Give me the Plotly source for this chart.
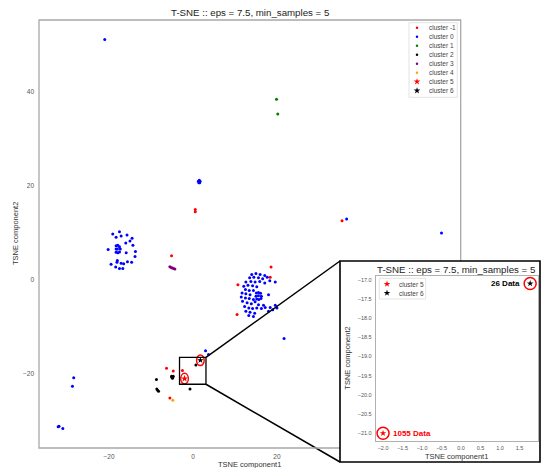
import plotly.graph_objects as go

W, H = 542, 468
FONT = "Liberation Sans, Arial, sans-serif"

# ---------------- data: T-SNE embedding, DBSCAN labels ----------------
# cluster -1 (noise)
noise_x = [0.55, 0.55, 35.5, -5.1, 18.6, 18.4, 10.7, 10.5, -6.3, -4.7, -2.5, -5.5]
noise_y = [14.4, 14.9, 12.5, 5.1, 2.7, 0.5, -1.1, -7.4, -18.8, -19.4, -19.3, -25.1]

# cluster 0
c0_x = [-21.0,
        1.3, 1.5, 1.7, 1.4, 1.6,
        36.6, 59.2,
        -19.1, -17.5, -18.3, -17.1, -15.7, -14.5, -15.0, -16.0, -14.3, -20.2,
        -13.7, -15.9, -13.8, -18.0, -17.1, -19.5, -16.5, -15.6, -14.6, -18.1,
        -18.4, -17.5, -16.7,
        -18.3, -18.3, -18.3, -17.9, -17.5, -17.3, -17.5, -17.9, -18.0,
        14.0, 15.0, 16.0, 17.1, 13.5, 14.5, 15.6, 16.6, 17.7, 18.3, 19.6,
        12.6, 13.8, 14.8, 15.9, 17.1, 12.1, 13.1, 14.2, 15.2, 12.5, 13.4,
        14.4, 11.7, 12.6, 13.6, 11.5, 12.5, 13.4, 14.4, 11.8, 12.9, 13.9,
        14.8, 15.6, 16.8, 12.3, 13.3, 14.2, 15.2, 16.3, 17.2, 18.4, 19.6,
        20.0, 12.6, 13.6, 14.7, 18.0, 19.0, 13.3, 14.4, 18.0,
        15.1, 15.6, 16.1, 15.0, 16.3, 15.2, 15.7, 16.2, 15.6,
        3.0, 3.7, 21.7,
        -28.4, -28.7, -32.1, -31.9, -31.0]
c0_y = [51.0,
        20.9, 21.1, 20.9, 20.6, 20.6,
        12.9, 9.9,
        9.7, 10.2, 9.0, 9.3, 9.5, 8.8, 8.2, 7.8, 7.3, 6.4,
        6.0, 5.7, 4.9, 4.1, 3.5, 3.3, 3.4, 3.8, 3.7, 3.7,
        2.7, 2.4, 2.4,
        7.2, 6.5, 5.8, 7.3, 7.0, 6.5, 5.9, 5.7, 6.5,
        1.1, 1.3, 1.1, 0.9, 0.4, 0.5, 0.4, 0.2, 0.5, -0.2, -0.5,
        -0.5, -0.4, -0.5, -0.4, -0.7, -1.4, -1.2, -1.3, -1.5, -2.1, -2.3,
        -2.3, -2.8, -3.0, -3.2, -3.7, -3.9, -4.0, -4.2, -4.6, -4.9, -5.1,
        -4.7, -5.3, -5.4, -5.7, -6.0, -6.1, -6.0, -6.1, -5.9, -5.9, -5.4,
        -6.0, -6.7, -6.9, -7.1, -6.7, -6.4, -7.6, -7.8, -3.2,
        -2.8, -2.7, -2.9, -3.5, -3.5, -4.1, -4.2, -4.0, -3.4,
        -15.1, -15.9, -12.5,
        -20.8, -22.6, -31.2, -31.1, -31.6]

# cluster 1
c1_x = [19.9, 20.2]
c1_y = [38.3, 35.2]

# cluster 2
c2_x = [-8.7, -8.6, -8.4, -8.2, -5.1, -4.7, -4.9, -5.0, -4.8, 0.7, -0.7]
c2_y = [-21.2, -23.2, -23.45, -23.7, -20.5, -20.5, -20.9, -20.7, -20.8, -18.1, -23.2]

# cluster 3
c3_x = [-5.5, -5.2, -4.9, -4.6, -4.3]
c3_y = [2.75, 2.6, 2.5, 2.35, 2.25]

# cluster 4
c4_x = [-4.8]
c4_y = [-25.6]

# clusters 5 and 6 (centroid positions, with member counts)
c5_x, c5_y, c5_count = [-2.0], [-21.0], 1055
c6_x, c6_y, c6_count = [1.77], [-17.1], 26

cluster_names = ["cluster -1", "cluster 0", "cluster 1", "cluster 2",
                 "cluster 3", "cluster 4", "cluster 5", "cluster 6"]

main_xticks = [-20, 0, 20]
main_xticklabels = ["\u221220", "0", "20"]
main_yticks = [-20, 0, 20, 40]
main_yticklabels = ["\u221220", "0", "20", "40"]
inset_xticks = [-2.0, -1.5, -1.0, -0.5, 0.0, 0.5, 1.0, 1.5]
inset_yticks = [-21.0, -20.5, -20.0, -19.5, -19.0, -18.5, -18.0, -17.5, -17.0]

title_text = "T-SNE :: eps = 7.5, min_samples = 5"

# ---------------- styles ----------------
colors = ["red", "blue", "green", "black", "purple", "orange", "red", "black"]
symbols = ["circle"] * 6 + ["star", "star"]


def pxx(xp):
    return xp / W


def pxy(yp):
    return 1 - yp / H


def padded(vals, frac=0.05):
    lo, hi = min(vals), max(vals)
    pad = (hi - lo) * frac
    return [lo - pad, hi + pad]


all_x = noise_x + c0_x + c1_x + c2_x + c3_x + c4_x + c5_x + c6_x
all_y = noise_y + c0_y + c1_y + c2_y + c3_y + c4_y + c5_y + c6_y
main_xr = padded(all_x)
main_yr = padded(all_y)
inset_xr = padded(c5_x + c6_x)
inset_yr = padded(c5_y + c6_y)

# pixel boxes of the plotting areas
MAIN = dict(l=39, r=460.7, t=20, b=448)
INSET = dict(l=375.7, r=537.5, t=276, b=440.7)
INSET_FRAME = dict(l=340, r=540, t=261, b=462)

fig = go.Figure()

series = [(noise_x, noise_y), (c0_x, c0_y), (c1_x, c1_y), (c2_x, c2_y),
          (c3_x, c3_y), (c4_x, c4_y), (c5_x, c5_y), (c6_x, c6_y)]
sizes = [3, 3, 3, 3, 3, 3, 5.5, 5]
for (xs, ys), name, col, sym, sz in zip(series, cluster_names, colors, symbols, sizes):
    fig.add_trace(go.Scatter(x=xs, y=ys, mode="markers", name=name, showlegend=False,
                             marker=dict(color=col, symbol=sym, size=sz, line=dict(width=0)),
                             xaxis="x", yaxis="y", hoverinfo="skip"))

# ---- inset: clusters 5 and 6 only ----
for xs, ys, col in [(c5_x, c5_y, "red"), (c6_x, c6_y, "black")]:
    fig.add_trace(go.Scatter(x=xs, y=ys, mode="markers", showlegend=False,
                             marker=dict(color=col, symbol="star", size=5, line=dict(width=0)),
                             xaxis="x2", yaxis="y2", cliponaxis=False, hoverinfo="skip"))
    fig.add_trace(go.Scatter(x=xs, y=ys, mode="markers", showlegend=False,
                             marker=dict(color="red", symbol="circle-open", size=12,
                                         line=dict(color="red", width=1.5)),
                             xaxis="x2", yaxis="y2", cliponaxis=False, hoverinfo="skip"))

annotations = []
shapes = []

# count labels in the inset
annotations.append(dict(x=c5_x[0], y=c5_y[0], xref="x2", yref="y2", text=f"<b>{c5_count} Data</b>",
                        xanchor="left", yanchor="middle", xshift=8, showarrow=False,
                        font=dict(family=FONT, size=8, color="red")))
annotations.append(dict(x=c6_x[0], y=c6_y[0], xref="x2", yref="y2", text=f"<b>{c6_count} Data</b>",
                        xanchor="right", yanchor="middle", xshift=-8, showarrow=False,
                        font=dict(family=FONT, size=8, color="black")))

# rings around clusters 5 and 6 on the main plot
sx = (MAIN["r"] - MAIN["l"]) / (main_xr[1] - main_xr[0])
sy = (MAIN["b"] - MAIN["t"]) / (main_yr[1] - main_yr[0])
ring_rx, ring_ry = 3.8 / sx, 5.3 / sy
for cx, cy in [(c5_x[0], c5_y[0]), (c6_x[0], c6_y[0])]:
    shapes.append(dict(type="circle", xref="x", yref="y", x0=cx - ring_rx, x1=cx + ring_rx,
                       y0=cy - ring_ry, y1=cy + ring_ry, line=dict(color="red", width=1.4),
                       layer="above"))

# zoom box around the two clusters
box_x = [min(c5_x + c6_x) - 1.2, max(c5_x + c6_x) + 1.33]
box_y = [min(c5_y + c6_y) - 1.2, max(c5_y + c6_y) + 0.6]
shapes.append(dict(type="rect", xref="x", yref="y", x0=box_x[0], x1=box_x[1],
                   y0=box_y[0], y1=box_y[1], line=dict(color="black", width=1.3), layer="above"))


def data_to_paper(x, y):
    xp = MAIN["l"] + (x - main_xr[0]) * sx
    yp = MAIN["b"] - (y - main_yr[0]) * sy
    return pxx(xp), pxy(yp)


# connector lines from the zoom box to the inset frame
for by, fy in [(box_y[1], INSET_FRAME["t"]), (box_y[0], INSET_FRAME["b"])]:
    x0, y0 = data_to_paper(box_x[1], by)
    shapes.append(dict(type="line", xref="paper", yref="paper", x0=x0, y0=y0,
                       x1=pxx(INSET_FRAME["l"]), y1=pxy(fy),
                       line=dict(color="black", width=1.5), layer="above"))

# main frame (hidden where the inset sits)
m, f = MAIN, INSET_FRAME
frame_path = (f"M {pxx(m['r'])},{pxy(f['t'])} L {pxx(m['r'])},{pxy(m['t'])} "
              f"L {pxx(m['l'])},{pxy(m['t'])} L {pxx(m['l'])},{pxy(m['b'])} "
              f"L {pxx(f['l'])},{pxy(m['b'])}")
shapes.append(dict(type="path", xref="paper", yref="paper", path=frame_path,
                   line=dict(color="#a8a8a8", width=1.3), layer="above"))

# inset frame
shapes.append(dict(type="rect", xref="paper", yref="paper", x0=pxx(f["l"]), x1=pxx(f["r"]),
                   y0=pxy(f["b"]), y1=pxy(f["t"]), line=dict(color="black", width=1.6),
                   fillcolor="rgba(0,0,0,0)", layer="above"))

# ---- legends drawn on their own small axes ----
LEG = dict(l=409, r=457.3, t=22.7, b=97.3)
LEG2 = dict(l=379.3, r=425.7, t=278.3, b=299)
for box in (LEG, LEG2):
    shapes.append(dict(type="rect", xref="paper", yref="paper", x0=pxx(box["l"]), x1=pxx(box["r"]),
                       y0=pxy(box["b"]), y1=pxy(box["t"]), line=dict(color="#dcdcdc", width=0.8),
                       fillcolor="white", layer="below"))

leg_rows = [5.0 + 9.0 * i for i in range(len(cluster_names))]
leg_sizes = [2.5, 2.5, 2.5, 2.5, 2.5, 2.5, 5, 5]
for name, col, sym, sz, ry in zip(cluster_names, colors, symbols, leg_sizes, leg_rows):
    fig.add_trace(go.Scatter(x=[8], y=[ry], mode="markers", showlegend=False,
                             marker=dict(color=col, symbol=sym, size=sz, line=dict(width=0)),
                             xaxis="x3", yaxis="y3", cliponaxis=False, hoverinfo="skip"))
    annotations.append(dict(x=18, y=ry, xref="x3", yref="y3", text=name, showarrow=False,
                            xanchor="left", yanchor="middle",
                            font=dict(family=FONT, size=6.5, color="#444")))

inset_names = cluster_names[6:]
inset_colors = colors[6:]
for i, (name, col) in enumerate(zip(inset_names, inset_colors)):
    ry = 5.7 + 9.0 * i
    fig.add_trace(go.Scatter(x=[7.7], y=[ry], mode="markers", showlegend=False,
                             marker=dict(color=col, symbol="star", size=5, line=dict(width=0)),
                             xaxis="x4", yaxis="y4", cliponaxis=False, hoverinfo="skip"))
    annotations.append(dict(x=18, y=ry, xref="x4", yref="y4", text=name, showarrow=False,
                            xanchor="left", yanchor="middle",
                            font=dict(family=FONT, size=6.5, color="#444")))

# ---- titles ----
def text_at(x, y, text, size, angle=0, color="#222"):
    annotations.append(dict(x=pxx(x), y=pxy(y), xref="paper", yref="paper", text=text,
                            showarrow=False, xanchor="center", yanchor="middle", textangle=angle,
                            font=dict(family=FONT, size=size, color=color)))


text_at((MAIN["l"] + MAIN["r"]) / 2, 12, title_text, 9.7)
text_at((MAIN["l"] + MAIN["r"]) / 2, 464.5, "TSNE component1", 7.5, color="#333")
text_at(15, (MAIN["t"] + MAIN["b"]) / 2, "TSNE component2", 7.5, angle=-90, color="#333")
text_at(456, 269, title_text, 9.7)
text_at((INSET["l"] + INSET["r"]) / 2, 456.7, "TSNE component1", 7.5, color="#333")
text_at(347.3, (INSET["t"] + INSET["b"]) / 2, "TSNE component2", 7.5, angle=-90, color="#333")

tick_font = dict(family=FONT, size=6.5, color="#555")
inset_tick_font = dict(family=FONT, size=5.5, color="#555")


def fmt(v):
    s = f"{v:.1f}"
    return s.replace("-", "\u2212")


fig.update_layout(
    width=W, height=H, margin=dict(l=0, r=0, t=0, b=0),
    paper_bgcolor="white", plot_bgcolor="rgba(0,0,0,0)",
    showlegend=False,
    xaxis=dict(domain=[pxx(MAIN["l"]), pxx(MAIN["r"])], range=main_xr, anchor="y",
               tickvals=main_xticks, ticktext=main_xticklabels, showgrid=False, zeroline=False,
               showline=False, ticks="", tickfont=tick_font, ticklabelstandoff=3),
    yaxis=dict(domain=[pxy(MAIN["b"]), pxy(MAIN["t"])], range=main_yr, anchor="x",
               tickvals=main_yticks, ticktext=main_yticklabels, showgrid=False, zeroline=False,
               showline=False, ticks="", tickfont=tick_font, ticklabelstandoff=4),
    xaxis2=dict(domain=[pxx(INSET["l"]), pxx(INSET["r"])], range=inset_xr, anchor="y2",
                tickvals=inset_xticks, ticktext=[fmt(v) for v in inset_xticks],
                showgrid=False, zeroline=False, showline=True, mirror=True, linecolor="#b0b0b0",
                linewidth=1, ticks="", tickfont=inset_tick_font, ticklabelstandoff=2),
    yaxis2=dict(domain=[pxy(INSET["b"]), pxy(INSET["t"])], range=inset_yr, anchor="x2",
                tickvals=inset_yticks, ticktext=[fmt(v) for v in inset_yticks],
                showgrid=False, zeroline=False, showline=True, mirror=True, linecolor="#b0b0b0",
                linewidth=1, ticks="", tickfont=inset_tick_font, ticklabelstandoff=2),
    xaxis3=dict(domain=[pxx(LEG["l"]), pxx(LEG["r"])], range=[0, LEG["r"] - LEG["l"]],
                anchor="y3", visible=False),
    yaxis3=dict(domain=[pxy(LEG["b"]), pxy(LEG["t"])], range=[LEG["b"] - LEG["t"], 0],
                anchor="x3", visible=False),
    xaxis4=dict(domain=[pxx(LEG2["l"]), pxx(LEG2["r"])], range=[0, LEG2["r"] - LEG2["l"]],
                anchor="y4", visible=False),
    yaxis4=dict(domain=[pxy(LEG2["b"]), pxy(LEG2["t"])], range=[LEG2["b"] - LEG2["t"], 0],
                anchor="x4", visible=False),
    annotations=annotations,
    shapes=shapes,
)

fig.write_html("out.html")
